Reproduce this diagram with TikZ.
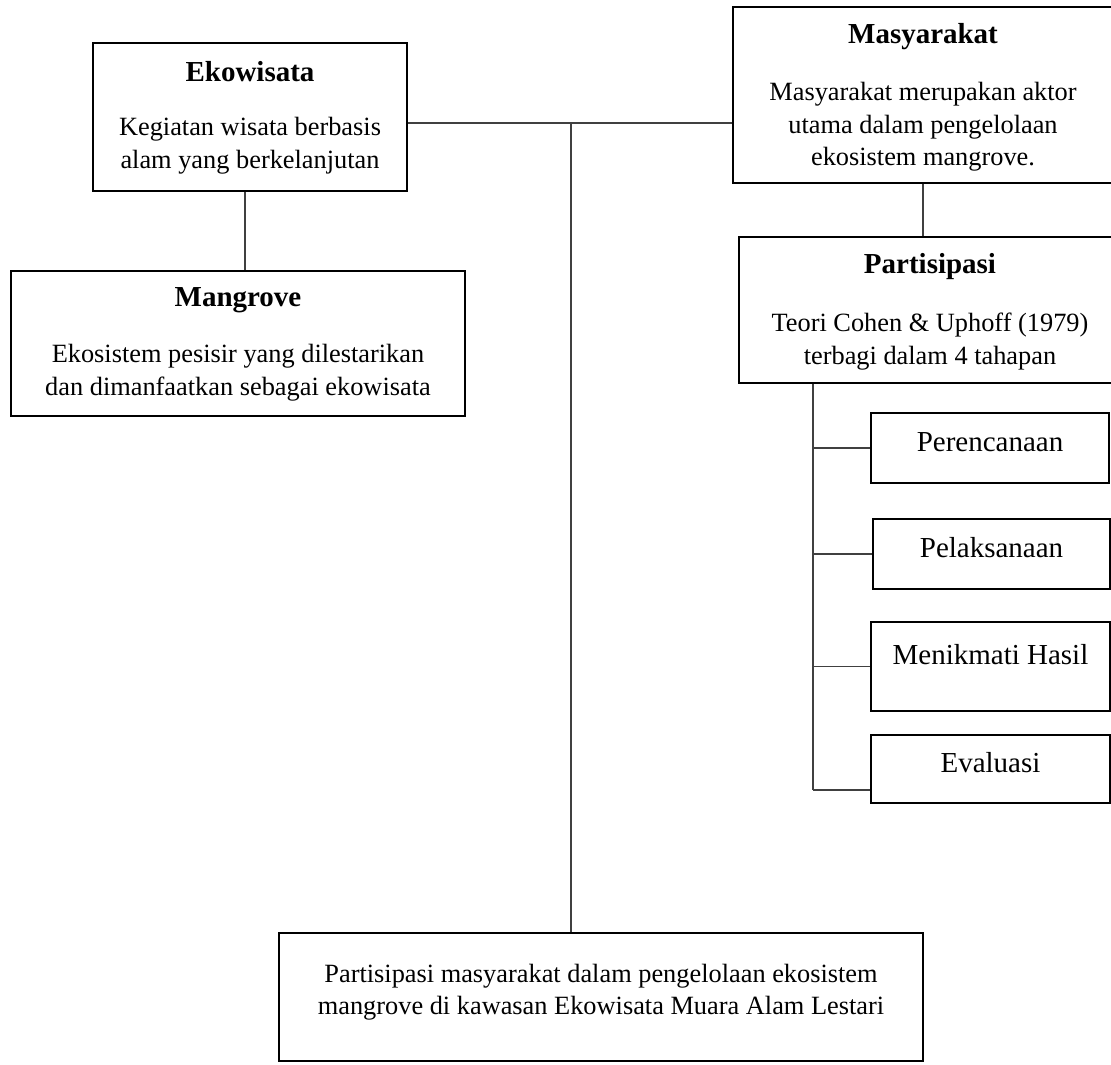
\documentclass[tikz,border=0pt]{standalone}
\usepackage{fontspec}
\setmainfont{Liberation Serif}
\tikzset{
  box/.style={draw, line width=0.9pt, inner sep=0pt},
  link/.style={draw=black!75, line width=0.55pt},
  heading/.style={font=\fontsize{13.2}{16}\selectfont\bfseries, inner sep=0pt},
  desc/.style={font=\fontsize{12}{14.8}\selectfont, align=center, inner sep=0pt},
  stage/.style={font=\fontsize{13.2}{16}\selectfont, inner sep=0pt},
}
\begin{document}
\begin{tikzpicture}[x=0.016cm, y=-0.016cm]
	\useasboundingbox (0,0) rectangle (1111,1064);

	% Ekowisata
	\node[box, minimum width=314*0.016cm, minimum height=148*0.016cm] (ekowisata) at (250,117) {};
	\node[heading] (ekowisata-judul) at (250,72) {Ekowisata};
	\node[desc] (ekowisata-isi) at (250,145.5) {Kegiatan wisata berbasis\\alam yang berkelanjutan};

	% Mangrove
	\node[box, minimum width=454*0.016cm, minimum height=145*0.016cm] (mangrove) at (238,343.5) {};
	\node[heading] (mangrove-judul) at (238,300) {Mangrove};
	\node[desc] (mangrove-isi) at (238,372.5) {Ekosistem pesisir yang dilestarikan\\dan dimanfaatkan sebagai ekowisata};

	% Masyarakat
	\node[box, minimum width=380*0.016cm, minimum height=176*0.016cm] (masyarakat) at (923,95) {};
	\node[heading] (masyarakat-judul) at (923,37) {Masyarakat};
	\node[desc] (masyarakat-isi) at (923,127) {Masyarakat merupakan aktor\\utama dalam pengelolaan\\ekosistem mangrove.};

	% Partisipasi
	\node[box, minimum width=382*0.016cm, minimum height=146*0.016cm] (partisipasi) at (930,310) {};
	\node[heading] (partisipasi-judul) at (930,267) {Partisipasi};
	\node[desc] (partisipasi-isi) at (930,341.5) {Teori Cohen \& Uphoff (1979)\\terbagi dalam 4 tahapan};

	% tahapan
	\node[box, minimum width=238*0.016cm, minimum height=70*0.016cm] (perencanaan) at (990,448) {};
	\node[stage] (perencanaan-teks) at (990,442) {Perencanaan};

	\node[box, minimum width=237*0.016cm, minimum height=70*0.016cm] (pelaksanaan) at (991.5,554) {};
	\node[stage] (pelaksanaan-teks) at (991.5,548) {Pelaksanaan};

	\node[box, minimum width=239*0.016cm, minimum height=89*0.016cm] (menikmati) at (990.5,666.5) {};
	\node[stage] (menikmati-teks) at (990.5,655) {Menikmati Hasil};

	\node[box, minimum width=239*0.016cm, minimum height=68*0.016cm] (evaluasi) at (990.5,769) {};
	\node[stage] (evaluasi-teks) at (990.5,763) {Evaluasi};

	% hasil
	\node[box, minimum width=644*0.016cm, minimum height=128*0.016cm] (hasil) at (601,997) {};
	\node[desc] (hasil-isi) at (601,992) {Partisipasi masyarakat dalam pengelolaan ekosistem\\mangrove di kawasan Ekowisata Muara Alam Lestari};

	% garis penghubung
	\coordinate (hub) at (571,123);
	\coordinate (spine) at (813,790);
	\draw[link] (ekowisata.east |- hub) -- (masyarakat.west |- hub);
	\draw[link] (hub) -- (hub |- hasil.north);
	\draw[link] ([xshift=-5*0.016cm]ekowisata.south) -- ([xshift=-5*0.016cm]ekowisata.south |- mangrove.north);
	\draw[link] (masyarakat.south) -- (masyarakat.south |- partisipasi.north);
	\draw[link] (spine |- partisipasi.south) -- (spine);
	\draw[link] (spine |- perencanaan.west) -- (perencanaan.west);
	\draw[link] (spine |- pelaksanaan.west) -- (pelaksanaan.west);
	\draw[link] (spine |- menikmati.west) -- (menikmati.west);
	\draw[link] (spine) -- (spine -| evaluasi.west);
\end{tikzpicture}
\end{document}
